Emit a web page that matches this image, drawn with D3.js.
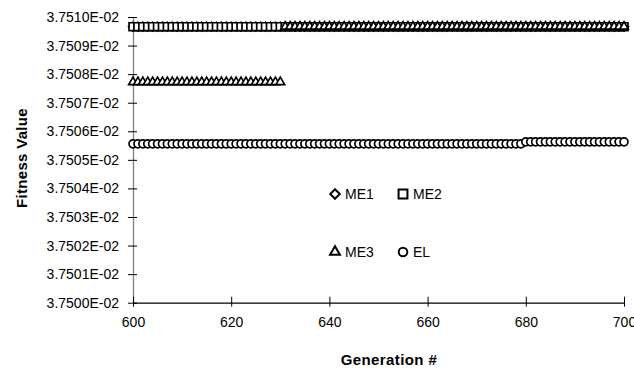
<!DOCTYPE html>
<html><head><meta charset="utf-8">
<script src="https://cdn.jsdelivr.net/npm/d3@7"></script>
<style>body{margin:0;background:#fff}svg{display:block}text{font-family:"Liberation Sans",Arial,sans-serif}</style>
</head><body>
<script>
const generations = [
600,601,602,603,604,605,606,607,608,609,
610,611,612,613,614,615,616,617,618,619,
620,621,622,623,624,625,626,627,628,629,
630,631,632,633,634,635,636,637,638,639,
640,641,642,643,644,645,646,647,648,649,
650,651,652,653,654,655,656,657,658,659,
660,661,662,663,664,665,666,667,668,669,
670,671,672,673,674,675,676,677,678,679,
680,681,682,683,684,685,686,687,688,689,
690,691,692,693,694,695,696,697,698,699,
700];
const me1 = [
0.03750966,0.03750966,0.03750966,0.03750966,0.03750966,0.03750966,0.03750966,0.03750966,0.03750966,0.03750966,
0.03750966,0.03750966,0.03750966,0.03750966,0.03750966,0.03750966,0.03750966,0.03750966,0.03750966,0.03750966,
0.03750966,0.03750966,0.03750966,0.03750966,0.03750966,0.03750966,0.03750966,0.03750966,0.03750966,0.03750966,
0.03750966,0.03750966,0.03750966,0.03750966,0.03750966,0.03750966,0.03750966,0.03750966,0.03750966,0.03750966,
0.03750966,0.03750966,0.03750966,0.03750966,0.03750966,0.03750966,0.03750966,0.03750966,0.03750966,0.03750966,
0.03750966,0.03750966,0.03750966,0.03750966,0.03750966,0.03750966,0.03750966,0.03750966,0.03750966,0.03750966,
0.03750966,0.03750966,0.03750966,0.03750966,0.03750966,0.03750966,0.03750966,0.03750966,0.03750966,0.03750966,
0.03750966,0.03750966,0.03750966,0.03750966,0.03750966,0.03750966,0.03750966,0.03750966,0.03750966,0.03750966,
0.03750966,0.03750966,0.03750966,0.03750966,0.03750966,0.03750966,0.03750966,0.03750966,0.03750966,0.03750966,
0.03750966,0.03750966,0.03750966,0.03750966,0.03750966,0.03750966,0.03750966,0.03750966,0.03750966,0.03750966,
0.03750966];
const me2 = [
0.03750966,0.03750966,0.03750966,0.03750966,0.03750966,0.03750966,0.03750966,0.03750966,0.03750966,0.03750966,
0.03750966,0.03750966,0.03750966,0.03750966,0.03750966,0.03750966,0.03750966,0.03750966,0.03750966,0.03750966,
0.03750966,0.03750966,0.03750966,0.03750966,0.03750966,0.03750966,0.03750966,0.03750966,0.03750966,0.03750966,
0.03750966,0.03750966,0.03750966,0.03750966,0.03750966,0.03750966,0.03750966,0.03750966,0.03750966,0.03750966,
0.03750966,0.03750966,0.03750966,0.03750966,0.03750966,0.03750966,0.03750966,0.03750966,0.03750966,0.03750966,
0.03750966,0.03750966,0.03750966,0.03750966,0.03750966,0.03750966,0.03750966,0.03750966,0.03750966,0.03750966,
0.03750966,0.03750966,0.03750966,0.03750966,0.03750966,0.03750966,0.03750966,0.03750966,0.03750966,0.03750966,
0.03750966,0.03750966,0.03750966,0.03750966,0.03750966,0.03750966,0.03750966,0.03750966,0.03750966,0.03750966,
0.03750966,0.03750966,0.03750966,0.03750966,0.03750966,0.03750966,0.03750966,0.03750966,0.03750966,0.03750966,
0.03750966,0.03750966,0.03750966,0.03750966,0.03750966,0.03750966,0.03750966,0.03750966,0.03750966,0.03750966,
0.03750966];
const me3 = [
0.03750772,0.03750772,0.03750772,0.03750772,0.03750772,0.03750772,0.03750772,0.03750772,0.03750772,0.03750772,
0.03750772,0.03750772,0.03750772,0.03750772,0.03750772,0.03750772,0.03750772,0.03750772,0.03750772,0.03750772,
0.03750772,0.03750772,0.03750772,0.03750772,0.03750772,0.03750772,0.03750772,0.03750772,0.03750772,0.03750772,
0.03750772,0.03750966,0.03750966,0.03750966,0.03750966,0.03750966,0.03750966,0.03750966,0.03750966,0.03750966,
0.03750966,0.03750966,0.03750966,0.03750966,0.03750966,0.03750966,0.03750966,0.03750966,0.03750966,0.03750966,
0.03750966,0.03750966,0.03750966,0.03750966,0.03750966,0.03750966,0.03750966,0.03750966,0.03750966,0.03750966,
0.03750966,0.03750966,0.03750966,0.03750966,0.03750966,0.03750966,0.03750966,0.03750966,0.03750966,0.03750966,
0.03750966,0.03750966,0.03750966,0.03750966,0.03750966,0.03750966,0.03750966,0.03750966,0.03750966,0.03750966,
0.03750966,0.03750966,0.03750966,0.03750966,0.03750966,0.03750966,0.03750966,0.03750966,0.03750966,0.03750966,
0.03750966,0.03750966,0.03750966,0.03750966,0.03750966,0.03750966,0.03750966,0.03750966,0.03750966,0.03750966,
0.03750966];
const el = [
0.03750556,0.03750556,0.03750556,0.03750556,0.03750556,0.03750556,0.03750556,0.03750556,0.03750556,0.03750556,
0.03750556,0.03750556,0.03750556,0.03750556,0.03750556,0.03750556,0.03750556,0.03750556,0.03750556,0.03750556,
0.03750556,0.03750556,0.03750556,0.03750556,0.03750556,0.03750556,0.03750556,0.03750556,0.03750556,0.03750556,
0.03750556,0.03750556,0.03750556,0.03750556,0.03750556,0.03750556,0.03750556,0.03750556,0.03750556,0.03750556,
0.03750556,0.03750556,0.03750556,0.03750556,0.03750556,0.03750556,0.03750556,0.03750556,0.03750556,0.03750556,
0.03750556,0.03750556,0.03750556,0.03750556,0.03750556,0.03750556,0.03750556,0.03750556,0.03750556,0.03750556,
0.03750556,0.03750556,0.03750556,0.03750556,0.03750556,0.03750556,0.03750556,0.03750556,0.03750556,0.03750556,
0.03750556,0.03750556,0.03750556,0.03750556,0.03750556,0.03750556,0.03750556,0.03750556,0.03750556,0.03750556,
0.03750563,0.03750563,0.03750563,0.03750563,0.03750563,0.03750563,0.03750563,0.03750563,0.03750563,0.03750563,
0.03750563,0.03750563,0.03750563,0.03750563,0.03750563,0.03750563,0.03750563,0.03750563,0.03750563,0.03750563,
0.03750563];
const seriesNames = ["ME1","ME2","ME3","EL"];
const xTicks = [600,620,640,660,680,700];
const yTicks = [0.03750,0.037501,0.037502,0.037503,0.037504,0.037505,0.037506,0.037507,0.037508,0.037509,0.03751];

const W = 634, H = 372;
const svg = d3.select("body").append("svg").attr("width", W).attr("height", H);
const x = d3.scaleLinear().domain([600,700]).range([133,624]);
const y = d3.scaleLinear().domain([0.0375,0.03751]).range([302.7,17]);

const fmt = d => (d*100).toFixed(4) + "E-02";

// y axis
const ya = svg.append("g").attr("transform","translate(133,0)")
  .call(d3.axisLeft(y).tickValues(yTicks).tickFormat(fmt).tickSize(4).tickSizeOuter(0));
ya.select(".domain").attr("stroke","#808080").attr("stroke-width",1.3);
ya.selectAll(".tick line").attr("x2",4).attr("x1",-5).attr("stroke","#000");
ya.selectAll(".tick text").attr("x",-14).attr("font-size","14px").attr("fill","#000").attr("font-family","Liberation Sans, Arial, sans-serif");

// x axis
const xa = svg.append("g").attr("transform","translate(0,302.7)")
  .call(d3.axisBottom(x).tickValues(xTicks).tickFormat(d3.format("d")).tickSize(4).tickSizeOuter(0));
xa.select(".domain").attr("stroke","#000").attr("stroke-width",1.2);
xa.selectAll(".tick line").attr("y1",-6).attr("y2",4).attr("stroke","#000");
xa.selectAll(".tick text").attr("y",14).attr("font-size","14px").attr("fill","#000").attr("font-family","Liberation Sans, Arial, sans-serif");

// titles
svg.append("text").attr("transform","translate(27,158) rotate(-90)").attr("text-anchor","middle")
  .attr("font-size","15px").attr("font-weight","bold").attr("letter-spacing","0.3px").text("Fitness Value");
svg.append("text").attr("x",389).attr("y",365).attr("text-anchor","middle")
  .attr("font-size","15px").attr("font-weight","bold").attr("letter-spacing","0.4px").text("Generation #");

const plotShapes = {
  ME1: d3.symbol().type(d3.symbolDiamond2).size(50),
  ME2: d3.symbol().type(d3.symbolSquare2).size(80),
  ME3: d3.symbol().type(d3.symbolTriangle2).size(54),
  EL: d3.symbol().type(d3.symbolCircle).size(50)
};
const legendShapes = {
  ME1: d3.symbol().type(d3.symbolDiamond2).size(58),
  ME2: d3.symbol().type(d3.symbolSquare2).size(100),
  ME3: d3.symbol().type(d3.symbolTriangle2).size(70),
  EL: d3.symbol().type(d3.symbolCircle).size(58)
};
const data = {ME1: me1, ME2: me2, ME3: me3, EL: el};

seriesNames.forEach(name => {
  svg.append("g").selectAll("path").data(generations.map((g,i)=>({g, v: data[name][i]})))
    .join("path")
    .attr("d", plotShapes[name]())
    .attr("transform", d => `translate(${x(d.g)},${y(d.v)})`)
    .attr("fill","#fff").attr("stroke","#000").attr("stroke-width",1.7);
});

// legend
const legendPos = {ME1:[335,194], ME2:[403,194], ME3:[335,252], EL:[403,252]};
seriesNames.forEach(name => {
  const [lx,ly] = legendPos[name];
  svg.append("path").attr("d", legendShapes[name]()).attr("transform",`translate(${lx},${ly})`)
    .attr("fill","#fff").attr("stroke","#000").attr("stroke-width",2);
  svg.append("text").attr("x",lx+10).attr("y",ly+5).attr("font-size","14px").text(name);
});
</script>
</body></html>
